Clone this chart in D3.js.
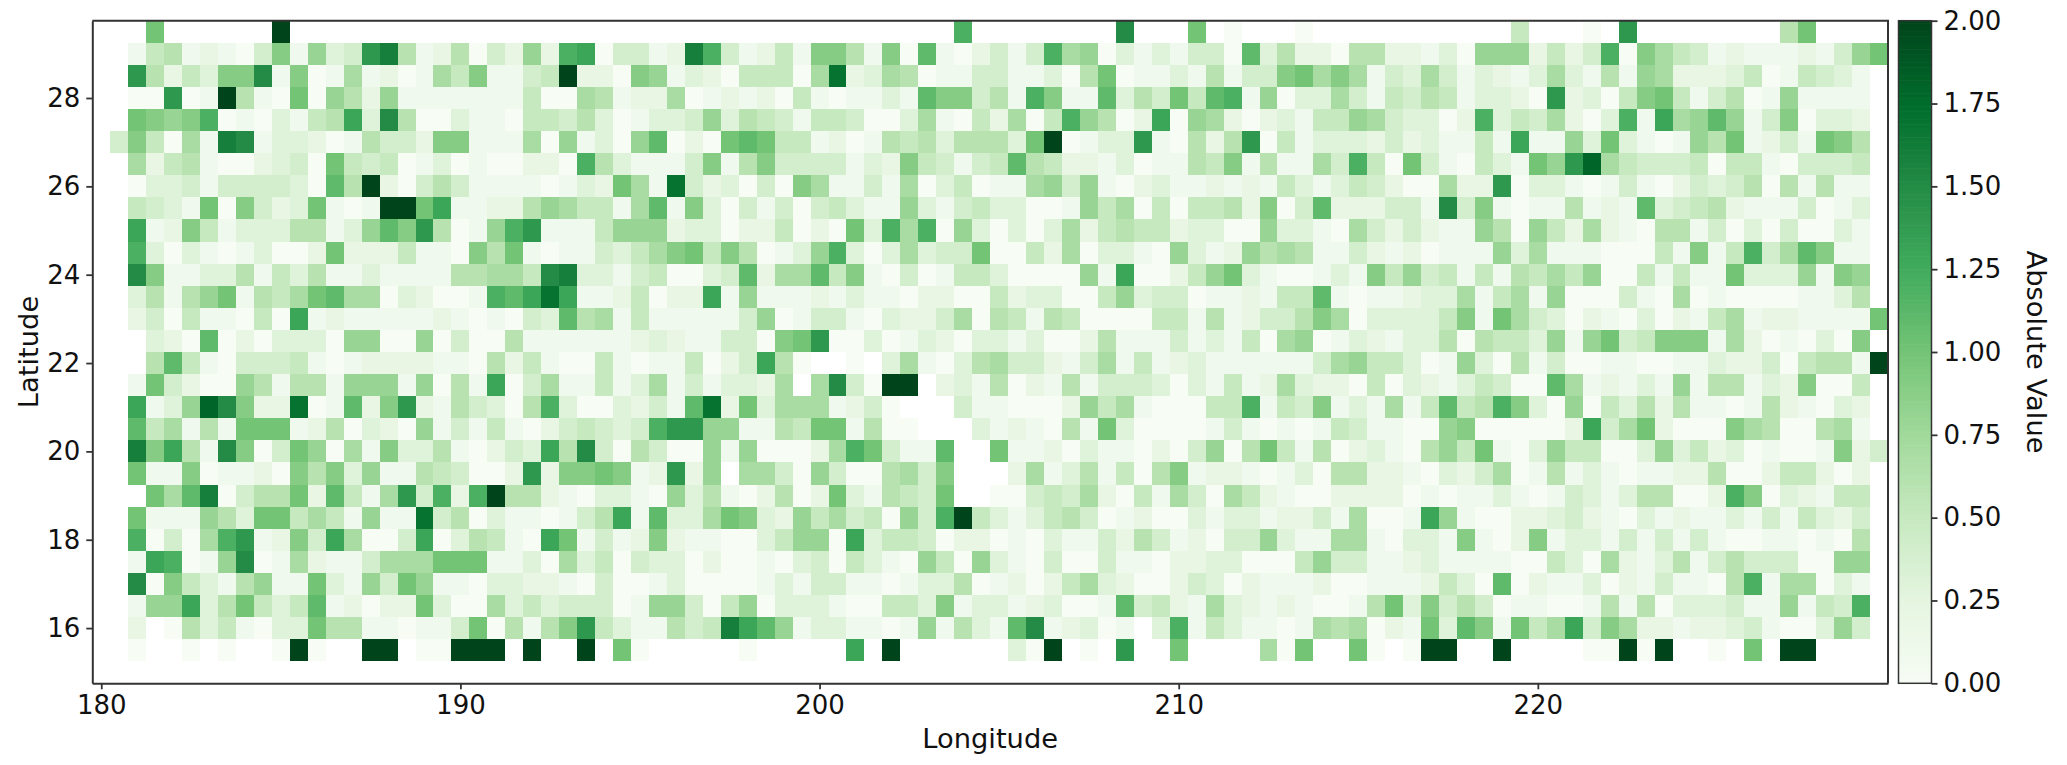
<!DOCTYPE html>
<html><head><meta charset="utf-8">
<style>html,body{margin:0;padding:0;background:#fff}svg{display:block}text{font-family:"DejaVu Sans",sans-serif;fill:#111}</style>
<script src="https://cdn.jsdelivr.net/npm/d3@7"></script></head><body>
<svg id="c" width="2067" height="765"></svg>
<script>
const _ = null;
// values in tenths of the colour-bar unit, one list per latitude, longitudes 180.0 ... 229.5
const lat295=[_,_,_,10,_,_,_,_,_,_,20,_,_,_,_,_,_,_,_,_,_,_,_,_,_,_,_,_,_,_,_,_,_,_,_,_,_,_,_,_,_,_,_,_,_,_,_,_,12,_,_,_,_,_,_,_,_,15,_,_,_,10,_,0,_,_,_,0,_,_,_,_,_,_,_,_,_,_,_,5,_,_,_,0,_,14,_,_,_,_,_,_,_,_,6,10,_,_,_,_];
const lat290=[_,_,1,5,6,1,2,1,0,4,9,1,8,3,4,14,16,6,1,2,6,0,4,2,8,2,12,13,0,4,4,1,2,16,12,4,1,2,5,1,9,9,6,1,9,0,11,1,0,2,4,1,4,12,7,8,0,3,1,3,1,4,4,0,11,3,6,2,2,0,6,6,2,2,1,3,0,8,8,8,2,5,2,4,12,0,9,7,5,4,1,2,1,1,1,2,1,4,8,10];
const lat285=[_,_,14,6,2,5,3,9,9,15,1,9,0,1,7,1,2,0,1,7,5,9,1,1,4,5,20,2,2,0,9,8,1,3,2,0,5,5,5,0,7,17,2,3,7,6,0,1,1,4,4,1,1,3,0,6,10,0,1,1,3,1,6,1,4,4,9,10,7,9,7,1,4,3,7,4,1,3,2,1,3,7,3,1,6,1,8,7,2,2,2,3,5,0,1,5,4,3,1,_];
const lat280=[_,_,0,0,14,0,1,20,6,1,0,10,0,8,6,2,8,1,1,1,1,1,1,1,5,0,0,7,6,1,2,2,7,0,1,2,1,2,0,5,1,0,1,1,3,1,11,9,9,4,6,1,12,9,1,1,11,3,6,4,10,5,11,12,1,8,0,3,3,7,4,1,5,4,6,5,1,3,3,2,0,14,2,3,0,5,9,10,5,1,4,6,0,1,8,1,1,1,1,_];
const lat275=[_,_,10,9,8,9,12,0,1,0,3,1,5,6,13,3,15,6,0,0,3,1,1,0,5,5,4,6,3,0,1,3,3,4,8,3,6,5,4,1,5,5,4,0,0,3,7,1,0,5,2,7,0,5,12,8,6,0,2,13,0,8,7,2,0,2,3,1,5,5,8,7,4,3,3,0,2,12,3,5,4,7,2,0,3,12,1,13,7,8,11,8,1,4,9,0,3,3,2,_];
const lat270=[_,4,9,5,0,7,1,16,15,1,3,3,2,0,1,6,4,4,2,9,9,1,1,1,7,0,8,1,3,0,8,11,0,2,0,10,11,10,5,5,1,2,0,1,6,5,6,3,6,6,6,3,10,20,0,1,3,3,14,1,0,6,2,6,14,0,5,1,3,3,3,2,4,2,3,1,1,5,1,13,1,1,8,3,10,3,1,0,1,8,6,10,1,2,4,1,10,9,6,_];
const lat265=[_,_,7,2,5,6,1,0,0,2,3,4,0,10,5,4,5,0,1,3,0,1,0,0,2,2,0,12,6,3,1,1,1,4,9,1,6,9,4,4,4,4,1,3,2,9,5,4,1,4,5,11,6,5,2,2,1,3,0,1,1,6,5,9,1,6,1,1,7,4,12,5,0,10,4,1,0,5,3,1,10,8,14,18,7,5,4,4,4,5,0,5,5,1,0,4,4,4,5,_];
const lat260=[_,_,0,3,3,4,1,4,4,4,4,3,0,11,6,20,2,0,4,6,4,1,1,1,1,0,1,3,2,10,7,1,17,4,2,3,0,4,0,9,7,1,1,4,1,7,0,3,5,0,1,1,7,8,4,8,1,0,2,3,1,1,2,1,2,1,5,3,1,3,5,4,2,0,0,7,2,2,14,0,3,3,1,0,1,4,1,0,2,4,3,4,6,0,6,1,6,1,1,_];
const lat255=[_,_,5,4,3,1,10,0,9,4,2,3,10,1,0,1,20,20,10,13,1,1,2,2,6,8,7,5,5,1,7,11,1,9,3,0,4,1,4,0,4,5,3,1,1,8,3,1,4,5,3,3,0,0,1,8,5,7,0,5,0,5,5,6,2,9,0,4,11,2,2,2,4,4,1,15,4,9,1,0,1,1,6,1,2,1,11,3,4,5,6,2,1,1,1,4,0,1,3,_];
const lat250=[_,_,13,1,2,9,5,1,3,3,3,6,6,1,3,8,11,9,14,6,0,1,8,12,14,1,1,1,5,8,8,8,2,3,3,0,2,2,5,0,2,0,10,3,12,7,12,0,8,3,0,3,0,3,7,2,5,6,5,5,2,3,3,0,0,8,3,3,1,0,7,4,2,4,2,1,1,8,6,0,8,5,2,7,2,1,0,6,6,1,4,0,3,0,4,0,0,3,1,_];
const lat245=[_,_,12,3,0,3,1,0,1,3,0,0,2,10,2,2,2,5,1,1,0,9,6,10,1,0,1,1,4,3,5,7,9,10,5,9,6,0,1,3,8,12,3,0,3,7,3,4,4,10,0,0,5,2,7,0,3,3,1,0,8,3,1,2,8,6,7,6,1,1,4,2,1,2,0,1,1,1,8,3,7,1,1,1,0,0,0,5,1,9,1,5,12,4,7,11,9,1,1,_];
const lat240=[_,_,15,9,1,1,3,3,6,1,5,3,6,1,1,3,1,1,1,1,6,6,7,7,5,15,16,3,3,1,4,5,0,0,3,4,11,2,7,7,11,5,9,1,0,4,0,1,5,5,3,0,0,0,0,8,1,13,0,0,2,5,8,10,3,1,0,0,1,3,1,9,5,8,4,5,1,5,1,6,5,7,5,8,0,0,5,1,5,1,1,10,3,3,3,8,1,9,8,_];
const lat235=[_,_,3,6,1,6,8,10,1,6,5,7,10,11,7,7,0,3,2,0,0,1,12,11,13,17,13,1,1,2,5,0,2,2,13,1,8,1,1,1,2,1,3,1,1,0,2,2,0,0,5,2,3,3,0,0,5,8,3,4,4,0,1,1,2,1,5,5,11,1,0,1,1,2,3,3,7,1,5,7,1,8,0,0,0,4,1,0,7,0,1,0,0,0,0,1,1,3,6,_];
const lat230=[_,_,2,4,0,5,1,1,0,5,0,13,1,2,1,1,1,1,1,2,1,0,1,0,4,3,11,6,7,1,5,1,1,1,1,1,4,8,0,1,4,4,1,0,3,2,2,4,7,0,6,5,1,6,5,0,0,0,0,5,5,1,6,1,2,4,4,6,9,7,0,3,3,3,3,5,9,1,10,7,4,3,0,2,1,0,3,0,2,1,5,7,1,2,2,1,1,1,1,10];
const lat225=[_,_,_,3,2,0,11,0,2,0,3,3,3,0,8,8,0,0,8,0,4,0,0,6,1,1,1,1,1,1,2,3,2,1,1,4,4,0,9,10,14,0,0,3,0,1,3,2,0,3,3,1,3,0,0,2,6,1,1,1,4,1,3,1,5,0,7,8,0,1,3,2,1,3,3,6,0,6,5,5,3,8,1,8,10,4,5,9,9,9,1,7,2,0,1,0,3,0,9,_];
const lat220=[_,_,_,6,11,5,1,0,4,4,4,5,1,0,1,2,2,2,2,1,1,0,6,2,5,1,0,0,5,1,0,1,1,5,0,2,4,13,6,0,_,_,0,_,3,7,1,0,3,6,7,4,4,2,1,4,7,1,5,1,2,3,1,1,1,1,1,1,4,7,8,5,5,3,0,1,8,3,0,6,1,4,0,0,1,1,0,0,1,1,3,2,2,4,0,5,6,6,1,20];
const lat215=[_,_,1,10,4,2,0,0,8,6,1,6,6,1,8,8,8,1,8,0,6,1,13,0,4,7,1,1,5,1,3,7,1,4,1,3,3,2,7,_,7,15,4,0,20,20,_,2,3,1,6,0,2,1,6,1,4,4,4,3,0,3,1,5,1,2,7,3,2,2,0,5,0,3,2,1,3,5,4,0,0,11,7,1,2,1,3,1,8,1,6,6,1,3,2,9,0,0,5,_];
const lat210=[_,_,13,1,3,8,18,15,9,2,2,17,0,1,11,2,9,14,2,1,6,4,3,0,6,12,3,0,0,3,2,4,1,11,17,2,10,3,7,7,7,1,2,4,0,_,_,_,4,1,1,0,0,0,2,8,5,7,1,0,0,0,5,5,12,1,5,4,9,1,3,1,7,1,5,11,5,6,12,9,3,0,8,0,5,3,6,2,6,1,1,0,1,6,2,1,0,3,2,_];
const lat205=[_,_,11,5,7,1,6,1,10,10,10,1,2,6,0,3,2,0,8,1,4,1,5,1,0,2,4,5,4,3,4,12,14,14,8,8,1,1,6,5,10,10,1,6,0,0,_,_,_,3,1,2,1,0,6,1,10,3,0,0,0,0,1,4,1,0,1,0,1,5,4,1,1,0,0,8,9,0,0,0,0,0,2,13,4,7,10,2,0,0,0,9,7,6,0,0,6,7,1,_];
const lat200=[_,_,16,9,13,6,1,15,9,0,4,10,8,0,7,1,9,3,3,6,1,0,2,4,3,13,6,15,4,0,6,4,0,0,8,1,8,0,0,0,2,7,12,10,4,1,1,11,_,_,10,1,1,2,0,3,1,1,0,2,0,4,8,0,6,10,5,1,6,0,2,3,1,0,6,8,5,10,1,0,3,8,5,5,0,0,3,8,3,5,2,3,0,1,0,0,1,9,2,4];
const lat195=[_,_,10,1,1,9,0,1,1,2,0,9,6,9,3,8,1,1,6,5,4,0,0,2,14,2,9,9,10,9,1,2,14,2,8,_,7,7,4,0,8,4,0,0,6,7,4,9,_,_,_,2,7,1,3,6,1,5,0,6,9,1,2,2,1,0,1,3,0,6,6,2,2,1,0,3,2,4,7,0,1,6,1,3,1,0,1,1,2,2,6,0,0,2,5,5,2,0,2,_];
const lat190=[_,_,_,10,7,11,16,0,4,6,6,10,2,11,5,1,7,14,4,12,2,12,20,6,6,2,1,0,3,3,1,0,8,3,6,1,0,2,6,0,2,10,3,1,6,5,4,10,_,_,0,0,4,5,4,7,2,0,5,1,7,4,0,7,5,2,1,0,0,2,2,2,2,0,1,0,1,1,3,1,0,1,4,3,1,3,6,6,0,0,2,12,9,0,3,2,1,5,5,_];
const lat185=[_,_,10,1,1,1,8,6,3,10,10,5,7,5,1,8,1,1,17,4,6,0,3,1,1,0,1,4,6,13,1,11,3,3,7,10,9,3,2,8,5,7,4,5,0,8,4,12,20,5,3,1,3,5,6,4,0,1,2,0,0,3,1,3,3,1,2,2,4,1,7,0,0,1,13,8,1,0,0,2,2,3,4,2,1,0,3,1,2,1,1,3,1,4,1,5,3,2,4,_];
const lat180=[_,_,12,0,4,0,7,12,14,1,2,9,4,13,7,0,0,4,13,0,3,6,5,1,0,13,10,1,4,1,2,9,2,1,1,0,0,3,5,8,8,0,13,3,5,5,4,0,2,2,0,1,0,3,1,1,4,2,6,4,1,2,0,4,4,8,3,1,1,7,7,1,0,3,3,1,9,1,0,2,9,1,3,3,1,4,1,4,1,4,1,0,0,1,1,0,1,0,6,_];
const lat175=[_,_,1,13,12,0,1,8,15,0,1,7,2,1,1,4,7,7,7,10,10,10,1,1,3,0,7,3,5,0,4,3,3,0,2,0,0,1,0,3,4,0,5,3,1,0,8,5,0,8,3,1,0,4,0,0,4,1,1,0,2,2,3,3,0,0,0,5,8,4,4,1,1,2,3,1,1,1,1,0,0,5,3,0,7,2,1,3,6,1,4,6,4,4,4,0,0,8,8,_];
const lat170=[_,_,15,0,9,5,3,1,6,8,1,1,10,3,1,8,4,10,8,1,1,0,3,3,2,2,1,0,4,0,0,1,3,0,0,0,0,1,3,1,4,4,1,1,0,1,3,3,6,0,1,2,0,2,5,7,3,2,0,0,2,4,3,0,2,1,1,1,2,0,0,1,1,1,2,5,3,0,11,0,2,1,1,3,0,2,1,4,1,1,0,6,12,1,7,7,0,3,1,_];
const lat165=[_,_,1,8,8,13,3,6,10,5,3,5,11,1,2,0,2,2,10,3,0,0,7,3,5,3,4,4,4,0,1,8,8,4,0,5,8,0,3,3,3,1,0,0,5,5,3,9,1,3,3,1,2,3,0,0,1,11,4,5,2,1,7,3,2,1,2,1,0,0,1,6,10,3,9,4,6,4,0,1,1,0,0,1,6,1,6,0,3,3,3,4,1,1,8,1,5,4,12,_];
const lat160=[_,_,2,_,0,6,3,5,1,0,3,3,10,6,6,1,1,0,1,1,4,10,0,6,1,6,9,14,5,3,1,1,6,4,5,16,13,11,8,1,3,3,1,1,0,1,8,1,6,3,1,11,15,1,2,3,0,1,_,3,12,1,5,3,1,1,0,1,7,6,7,0,2,1,10,3,11,9,1,10,5,7,13,4,9,7,2,2,1,2,2,3,4,1,0,0,3,8,4,_];
const lat155=[_,_,0,_,_,0,_,0,_,_,0,20,0,_,_,20,20,_,0,0,20,20,20,_,20,_,_,20,_,10,0,_,_,_,_,_,0,_,_,_,_,_,13,_,20,_,_,_,_,_,_,3,0,20,_,0,_,14,_,_,10,_,_,_,_,7,0,10,_,_,10,0,_,0,20,20,_,_,20,_,_,_,_,0,0,20,0,20,_,_,0,_,10,_,20,20,_,_,_,_];

const latitudes=[29.5,29,28.5,28,27.5,27,26.5,26,25.5,25,24.5,24,23.5,23,22.5,22,21.5,21,20.5,20,19.5,19,18.5,18,17.5,17,16.5,16,15.5];
const rows=[lat295,lat290,lat285,lat280,lat275,lat270,lat265,lat260,lat255,lat250,lat245,lat240,lat235,lat230,lat225,lat220,lat215,lat210,lat205,lat200,lat195,lat190,lat185,lat180,lat175,lat170,lat165,lat160,lat155];
const lonTicks=[180,190,200,210,220];
const latTicks=[16,18,20,22,24,26,28];
const barTicks=[0,0.25,0.5,0.75,1,1.25,1.5,1.75,2];

const L=92.3,R=1888,T=20.7,B=683.3, CL=1898.5, CR=1931.5;
const FS=26;
const svg=d3.select('#c');
const x=d3.scaleLinear().domain([179.75,229.75]).range([L,R]);
const y=d3.scaleLinear().domain([14.75,29.75]).range([B,T]);
const color=d3.scaleLinear().domain(d3.range(9).map(i=>i*0.25)).range(d3.schemeGreens[9]).clamp(true);

const cells=[];
rows.forEach((r,ri)=>r.forEach((v,ci)=>{if(v!==null)cells.push({lat:latitudes[ri],lon:180+ci*0.5,v:v/10});}));
svg.append('g').selectAll('rect').data(cells).join('rect')
  .attr('x',d=>x(d.lon-0.25)).attr('y',d=>y(d.lat+0.25))
  .attr('width',d=>x(d.lon+0.25)-x(d.lon-0.25)).attr('height',d=>y(d.lat-0.25)-y(d.lat+0.25))
  .attr('fill',d=>color(d.v)).attr('shape-rendering','crispEdges');

function style(g){
  g.selectAll('.domain').attr('stroke','#333').attr('stroke-width',2);
  g.selectAll('.tick line').attr('stroke','#333').attr('stroke-width',1.8);
  g.selectAll('.tick text').attr('font-size',FS).attr('font-family','DejaVu Sans');
}
svg.append('g').attr('transform',`translate(0,${B})`)
  .call(d3.axisBottom(x).tickValues(lonTicks).tickFormat(d3.format('d')).tickSize(6).tickPadding(6).tickSizeOuter(0)).call(style);
svg.append('g').attr('transform',`translate(${L},0)`)
  .call(d3.axisLeft(y).tickValues(latTicks).tickFormat(d3.format('d')).tickSize(6).tickPadding(6).tickSizeOuter(0)).call(style);
svg.append('path').attr('d',`M${L},${T}H${R}V${B}`).attr('fill','none').attr('stroke','#333').attr('stroke-width',2);

// colour bar
const cb=d3.scaleLinear().domain([0,2]).range([B,T]);
const steps=d3.range(256).map(i=>i/256*2);
svg.append('g').selectAll('rect').data(steps).join('rect')
  .attr('x',CL).attr('width',CR-CL)
  .attr('y',d=>cb(d+2/256)).attr('height',d=>cb(d)-cb(d+2/256)+0.6)
  .attr('fill',d=>color(d+1/256));
svg.append('rect').attr('x',CL).attr('y',T).attr('width',CR-CL).attr('height',B-T).attr('fill','none').attr('stroke','#333').attr('stroke-width',1.5);
svg.append('g').attr('transform',`translate(${CR},0)`)
  .call(d3.axisRight(cb).tickValues(barTicks).tickFormat(d3.format('.2f')).tickSize(6).tickPadding(6).tickSizeOuter(0))
  .call(style).call(g=>g.select('.domain').remove());

svg.append('text').attr('x',(L+R)/2).attr('y',748).attr('text-anchor','middle').attr('font-size',27.3).text('Longitude');
svg.append('text').attr('transform',`translate(38,${(T+B)/2}) rotate(-90)`).attr('text-anchor','middle').attr('font-size',27.3).text('Latitude');
svg.append('text').attr('transform',`translate(2027,${(T+B)/2}) rotate(90)`).attr('text-anchor','middle').attr('font-size',27.3).text('Absolute Value');
</script></body></html>
